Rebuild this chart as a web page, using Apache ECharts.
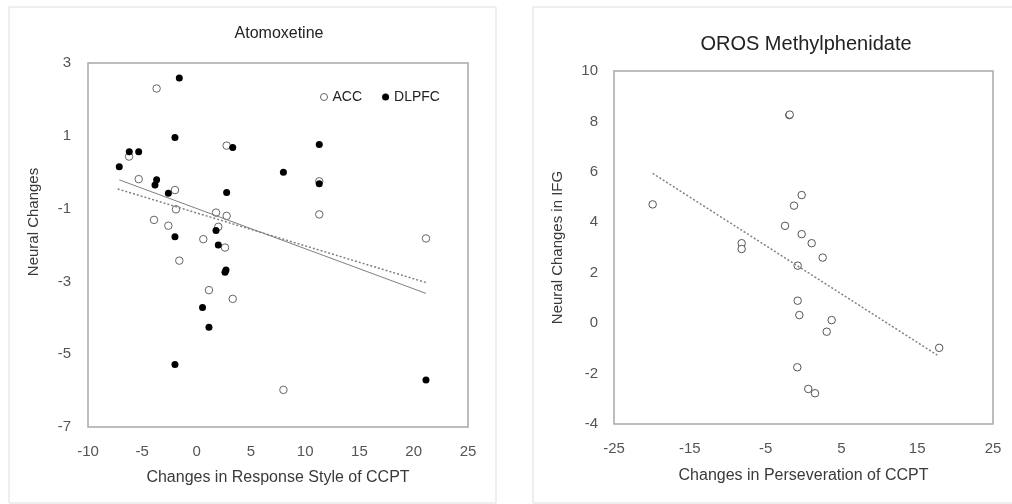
<!DOCTYPE html>
<html>
<head>
<meta charset="utf-8">
<script src="https://cdn.jsdelivr.net/npm/echarts@6/dist/echarts.min.js"></script>
<style>
  html, body { margin: 0; padding: 0; background: #fff; }
  #chart { width: 1012px; height: 504px; }
</style>
</head>
<body>
<div id="chart"></div>
<script>
// Atomoxetine panel: [change in response style, neural change]
const accPoints = [
  [-3.68, 2.3], [2.77, 0.73], [-6.22, 0.43], [-5.33, -0.19], [-1.99, -0.49],
  [-1.9, -1.02], [-3.92, -1.31], [-2.6, -1.47], [1.79, -1.11], [2.77, -1.2],
  [2.0, -1.5], [0.62, -1.84], [2.62, -2.07], [-1.59, -2.43], [1.14, -3.24],
  [3.33, -3.48], [11.3, -1.16], [21.13, -1.82], [8.0, -5.98], [11.3, -0.25]
]
const dlpfcPoints = [
  [-1.59, 2.59], [-1.99, 0.95], [-6.2, 0.56], [-5.33, 0.56], [-7.12, 0.15],
  [3.33, 0.68], [8.0, 0.0], [-3.68, -0.21], [-3.83, -0.35], [-2.6, -0.58],
  [2.77, -0.56], [-1.99, -1.77], [1.79, -1.6], [2.0, -2.0], [2.71, -2.69],
  [2.62, -2.75], [0.55, -3.72], [1.14, -4.26], [-1.99, -5.28], [11.3, 0.76],
  [11.3, -0.32], [21.13, -5.71]
]
// trend lines (start and end)
const solidTrend = [[-7.12, -0.21], [21.13, -3.33]]
const dottedTrend = [[-7.27, -0.46], [21.13, -3.03]]
const leftYLabels = [-7, -5, -3, -1, 1, 3]

// OROS Methylphenidate panel: [change in perseveration, IFG change]
const ifgPoints = [
  [-19.9, 4.71], [-8.16, 3.17], [-8.16, 2.94], [-2.44, 3.86], [-1.25, 4.66],
  [-0.24, 5.08], [-0.24, 3.53], [1.08, 3.17], [2.53, 2.6], [-0.77, 2.28],
  [-0.77, 0.89], [-0.55, 0.32], [3.72, 0.12], [3.06, -0.34], [-0.82, -1.75],
  [0.63, -2.61], [1.52, -2.78], [-1.87, 8.25], [-1.82, 8.27], [17.9, -0.98]
]
const ifgTrend = [[-19.9, 5.94], [17.65, -1.27]]
const rightXLabels = [-25, -15, -5, 5, 15, 25]

const chart = echarts.init(document.getElementById('chart'))
const tickColor = '#555'
const nameColor = '#3a3a3a'
const frameColor = '#a8a8a8'
const font = 'Liberation Sans, Arial, sans-serif'

const option = {
  animation: false,
  textStyle: { fontFamily: font },
  graphic: [
    { type: 'rect', shape: { x: 9, y: 7, width: 487, height: 496 }, style: { fill: 'none', stroke: '#dedede', lineWidth: 1 }, silent: true },
    { type: 'rect', shape: { x: 533, y: 7, width: 490, height: 496 }, style: { fill: 'none', stroke: '#dedede', lineWidth: 1 }, silent: true }
  ],
  title: [
    { text: 'Atomoxetine', left: 274, top: 21, textAlign: 'center',
      textStyle: { fontSize: 16, fontWeight: 'normal', color: '#222', fontFamily: font } },
    { text: 'OROS Methylphenidate', left: 801, top: 29, textAlign: 'center',
      textStyle: { fontSize: 20, fontWeight: 'normal', color: '#222', fontFamily: font } }
  ],
  legend: {
    left: 315, top: 85,
    itemWidth: 7, itemHeight: 7, itemGap: 20,
    textStyle: { fontSize: 14, color: '#222', fontFamily: font },
    data: [
      { name: 'ACC', icon: 'circle', itemStyle: { color: '#fff', borderColor: '#666', borderWidth: 1 } },
      { name: 'DLPFC', icon: 'circle', itemStyle: { color: '#000' } }
    ]
  },
  grid: [
    { left: 88, top: 63, width: 380, height: 364, show: true, borderColor: frameColor, borderWidth: 1.5, backgroundColor: '#fff' },
    { left: 614, top: 71, width: 379, height: 353, show: true, borderColor: frameColor, borderWidth: 1.5, backgroundColor: '#fff' }
  ],
  xAxis: [
    {
      gridIndex: 0, type: 'value', min: -10, max: 25, interval: 5,
      name: 'Changes in Response Style of CCPT', nameLocation: 'middle', nameGap: 43,
      nameTextStyle: { fontSize: 16, color: nameColor },
      axisLine: { show: false }, axisTick: { show: false }, splitLine: { show: false },
      axisLabel: { fontSize: 15, color: tickColor, margin: 17 }
    },
    {
      gridIndex: 1, type: 'value', min: -25, max: 25,
      name: 'Changes in Perseveration of CCPT', nameLocation: 'middle', nameGap: 44,
      nameTextStyle: { fontSize: 16, color: nameColor },
      axisLine: { show: false }, axisTick: { show: false }, splitLine: { show: false },
      axisLabel: { fontSize: 15, color: tickColor, margin: 17, customValues: rightXLabels }
    }
  ],
  yAxis: [
    {
      gridIndex: 0, type: 'value', min: -7, max: 3,
      name: 'Neural Changes', nameLocation: 'middle', nameGap: 47, nameRotate: 90,
      nameTextStyle: { fontSize: 15, color: nameColor, padding: [0, 0, 0, 46] },
      axisLine: { show: false }, axisTick: { show: false }, splitLine: { show: false },
      axisLabel: { fontSize: 15, color: tickColor, margin: 17, customValues: leftYLabels }
    },
    {
      gridIndex: 1, type: 'value', min: -4, max: 10, interval: 2,
      name: 'Neural Changes in IFG', nameLocation: 'middle', nameGap: 49, nameRotate: 90,
      nameTextStyle: { fontSize: 15, color: nameColor },
      axisLine: { show: false }, axisTick: { show: false }, splitLine: { show: false },
      axisLabel: { fontSize: 15, color: tickColor, margin: 16 }
    }
  ],
  series: [
    {
      name: 'solid trend', type: 'line', xAxisIndex: 0, yAxisIndex: 0,
      data: solidTrend, symbol: 'none', silent: true,
      lineStyle: { color: '#808080', width: 1 }
    },
    {
      name: 'dotted trend', type: 'line', xAxisIndex: 0, yAxisIndex: 0,
      data: dottedTrend, symbol: 'none', silent: true,
      lineStyle: { color: '#808080', width: 1.5, type: [2, 2] }
    },
    {
      name: 'ACC', type: 'scatter', xAxisIndex: 0, yAxisIndex: 0,
      data: accPoints, symbolSize: 7.5,
      itemStyle: { color: '#fff', borderColor: '#666', borderWidth: 1, opacity: 1 }
    },
    {
      name: 'DLPFC', type: 'scatter', xAxisIndex: 0, yAxisIndex: 0,
      data: dlpfcPoints, symbolSize: 7,
      itemStyle: { color: '#000', opacity: 1 }
    },
    {
      name: 'IFG trend', type: 'line', xAxisIndex: 1, yAxisIndex: 1,
      data: ifgTrend, symbol: 'none', silent: true,
      lineStyle: { color: '#808080', width: 1.5, type: [2, 2] }
    },
    {
      name: 'IFG', type: 'scatter', xAxisIndex: 1, yAxisIndex: 1,
      data: ifgPoints, symbolSize: 7.5,
      itemStyle: { color: '#fff', borderColor: '#555', borderWidth: 1, opacity: 1 }
    }
  ]
}
chart.setOption(option)
</script>
</body>
</html>
